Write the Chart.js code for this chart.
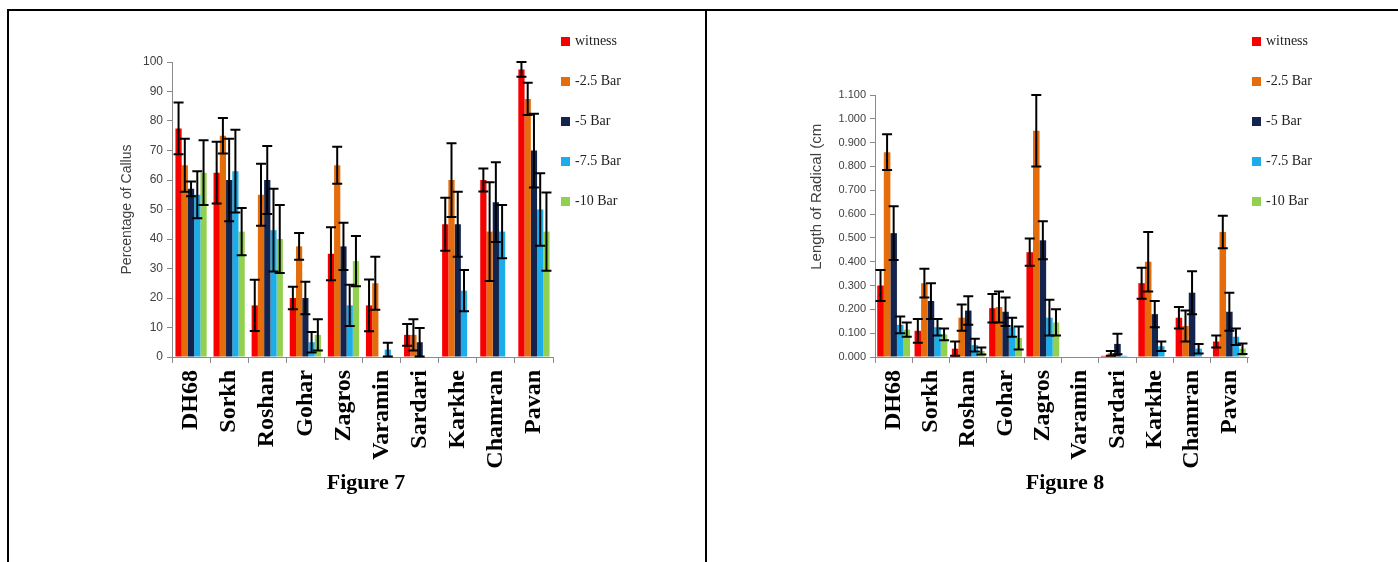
<!DOCTYPE html>
<html>
<head>
<meta charset="utf-8">
<script src="https://cdn.jsdelivr.net/npm/chart.js@4.4.1/dist/chart.umd.min.js"></script>
<style>
  body { margin: 0; background: #fff; width: 1398px; height: 562px; overflow: hidden; position: relative; }
  .frame { position: absolute; left: 7px; top: 9px; width: 1400px; height: 560px; border-top: 2px solid #000; border-left: 2px solid #000; }
  .divider { position: absolute; left: 705px; top: 9px; width: 2px; height: 553px; background: #000; }
  canvas { position: absolute; }
  #fig7 { left: 9px; top: 11px; }
  #fig8 { left: 707px; top: 11px; }
  .legend { position: absolute; top: 31px; font: 14px "Liberation Serif", "Times New Roman", serif; color: #222; }
  .legend .row { height: 20px; display: flex; align-items: center; margin-bottom: 20px; white-space: nowrap; }
  .legend .box { width: 9px; height: 9px; margin-right: 5px; }
  .caption { position: absolute; top: 469px; width: 200px; text-align: center; font: bold 22px/26px "Liberation Serif", "Times New Roman", serif; color: #000; }
</style>
</head>
<body>
<div class="frame"></div>
<div class="divider"></div>
<canvas id="fig7" width="696" height="551"></canvas>
<canvas id="fig8" width="691" height="551"></canvas>
<div class="legend" id="legend7" style="left:561px"></div>
<div class="legend" id="legend8" style="left:1252px"></div>
<div class="caption" style="left:266px">Figure 7</div>
<div class="caption" style="left:965px">Figure 8</div>
<script>
// Cultivars and drought levels
const categories = ['DH68', 'Sorkh', 'Roshan', 'Gohar', 'Zagros', 'Varamin', 'Sardari', 'Karkhe', 'Chamran', 'Pavan'];
const seriesNames = ['witness', '-2.5 Bar', '-5 Bar', '-7.5 Bar', '-10 Bar'];
const seriesColors = ['#f70000', '#e46c0a', '#13244f', '#1badea', '#92d050'];
const axisGray = '#8a8a8a';

// Figure 7 - percentage of callus
const callusWitness = [77.5, 62.5, 17.5, 20, 35, 17.5, 7.5, 45, 60, 97.5];
const callus25 = [65, 75, 55, 37.5, 65, 25, 7.5, 60, 42.5, 87.5];
const callus5 = [57, 60, 60, 20, 37.5, 0, 5, 45, 52.5, 70];
const callus75 = [55, 63, 43, 5, 17.5, 2.5, 0, 22.5, 42.5, 50];
const callus10 = [62.5, 42.5, 40, 7.5, 32.5, 0, 0, 0, 0, 42.5];

const callusErrWitness = [8.8, 10.5, 8.7, 3.8, 9, 8.8, 3.7, 9, 3.9, 2.5];
const callusErr25 = [9, 6, 10.5, 4.5, 6.3, 9, 5.3, 12.5, 16.7, 5.5];
const callusErr5 = [2.5, 14, 11.5, 5.5, 8, 0, 4.8, 11, 13.5, 12.5];
const callusErr75 = [8, 14, 14, 3.5, 7, 2.3, 0, 7, 9, 12.3];
const callusErr10 = [11, 8, 11.5, 5.3, 8.5, 0, 0, 0, 0, 13.3];

const yTicks7 = [0, 10, 20, 30, 40, 50, 60, 70, 80, 90, 100];

// Figure 8 - length of radical
const radicalWitness = [0.300, 0.110, 0.035, 0.205, 0.440, 0, 0.005, 0.310, 0.165, 0.065];
const radical25 = [0.860, 0.310, 0.165, 0.210, 0.950, 0, 0.015, 0.400, 0.130, 0.525];
const radical5 = [0.520, 0.235, 0.195, 0.190, 0.490, 0, 0.055, 0.180, 0.270, 0.190];
const radical75 = [0.135, 0.125, 0.050, 0.125, 0.165, 0, 0.005, 0.045, 0.035, 0.085];
const radical10 = [0.115, 0.095, 0.025, 0.080, 0.145, 0, 0, 0, 0, 0.035];

const radicalErrWitness = [0.065, 0.05, 0.03, 0.06, 0.057, 0, 0, 0.065, 0.045, 0.025];
const radicalErr25 = [0.075, 0.06, 0.055, 0.065, 0.15, 0, 0.01, 0.125, 0.065, 0.068];
const radicalErr5 = [0.113, 0.075, 0.06, 0.06, 0.08, 0, 0.043, 0.055, 0.09, 0.08];
const radicalErr75 = [0.035, 0.035, 0.027, 0.04, 0.075, 0, 0, 0.02, 0.02, 0.035];
const radicalErr10 = [0.03, 0.025, 0.015, 0.048, 0.055, 0, 0, 0, 0, 0.022];

const yTicks8 = [0, 0.1, 0.2, 0.3, 0.4, 0.5, 0.6, 0.7, 0.8, 0.9, 1.0, 1.1];

// Draws +/- error bars on top of every bar
const errorBars = {
  id: 'errorBars',
  afterDatasetsDraw(chart) {
    const ctx = chart.ctx;
    const y = chart.scales.y;
    ctx.save();
    ctx.strokeStyle = '#000';
    ctx.lineWidth = 2;
    chart.data.datasets.forEach((ds, i) => {
      chart.getDatasetMeta(i).data.forEach((bar, j) => {
        const e = ds.errors[j];
        if (!e) return;
        const top = y.getPixelForValue(ds.data[j] + e);
        const bottom = y.getPixelForValue(ds.data[j] - e);
        ctx.beginPath();
        ctx.moveTo(bar.x, top);
        ctx.lineTo(bar.x, bottom);
        ctx.moveTo(bar.x - 5, top);
        ctx.lineTo(bar.x + 5, top);
        ctx.moveTo(bar.x - 5, bottom);
        ctx.lineTo(bar.x + 5, bottom);
        ctx.stroke();
      });
    });
    ctx.restore();
  }
};

function buildLegend(id) {
  const el = document.getElementById(id);
  seriesNames.forEach((name, i) => {
    const row = document.createElement('div');
    row.className = 'row';
    row.innerHTML = '<span class="box" style="background:' + seriesColors[i] + '"></span>' + name;
    el.appendChild(row);
  });
}

function makeChart(id, values, errors, opts) {
  const datasets = seriesNames.map((name, i) => ({
    label: name,
    data: values[i],
    errors: errors[i],
    backgroundColor: seriesColors[i],
    categoryPercentage: opts.catPct,
    barPercentage: 1
  }));

  return new Chart(document.getElementById(id), {
    type: 'bar',
    data: { labels: categories, datasets: datasets },
    options: {
      responsive: false,
      animation: false,
      layout: { padding: opts.padding },
      plugins: { legend: { display: false }, tooltip: { enabled: false } },
      scales: {
        x: {
          grid: { offset: true, drawOnChartArea: false, tickLength: 6, color: axisGray },
          border: { color: axisGray },
          ticks: {
            minRotation: 90, maxRotation: 90, autoSkip: false, padding: 7, color: '#000',
            font: { family: 'Liberation Serif', size: 24, weight: 'bold' }
          },
          afterFit: s => { s.height = opts.xHeight; }
        },
        y: {
          min: 0,
          max: opts.max,
          afterBuildTicks: s => { s.ticks = opts.ticks.map(v => ({ value: v })); },
          grid: { drawOnChartArea: false, tickLength: 5, color: axisGray },
          border: { color: axisGray },
          ticks: {
            padding: 4, color: '#404040',
            font: { family: 'Liberation Sans', size: opts.tickSize },
            callback: opts.fmt
          },
          title: {
            display: true, text: opts.title, color: '#404040',
            font: { family: 'Liberation Sans', size: opts.titleSize },
            padding: { top: 4, bottom: 4 }
          },
          afterFit: s => { s.width = opts.yWidth; }
        }
      }
    },
    plugins: [errorBars]
  });
}

buildLegend('legend7');
buildLegend('legend8');

makeChart('fig7',
  [callusWitness, callus25, callus5, callus75, callus10],
  [callusErrWitness, callusErr25, callusErr5, callusErr75, callusErr10],
  {
    max: 100, ticks: yTicks7, fmt: v => v,
    title: 'Percentage of Callus', titleSize: 14, tickSize: 12,
    padding: { left: 106, right: 152, top: 51, bottom: 0 },
    yWidth: 57, xHeight: 205, catPct: 0.82
  });

makeChart('fig8',
  [radicalWitness, radical25, radical5, radical75, radical10],
  [radicalErrWitness, radicalErr25, radicalErr5, radicalErr75, radicalErr10],
  {
    max: 1.1, ticks: yTicks8, fmt: v => v.toFixed(3),
    // leading spaces push the title up the axis like in the original
    title: ' '.repeat(14) + 'Length of Radical (cm', titleSize: 15, tickSize: 11,
    padding: { left: 97, right: 150, top: 84, bottom: 0 },
    yWidth: 71, xHeight: 205, catPct: 0.88
  });
</script>
</body>
</html>
